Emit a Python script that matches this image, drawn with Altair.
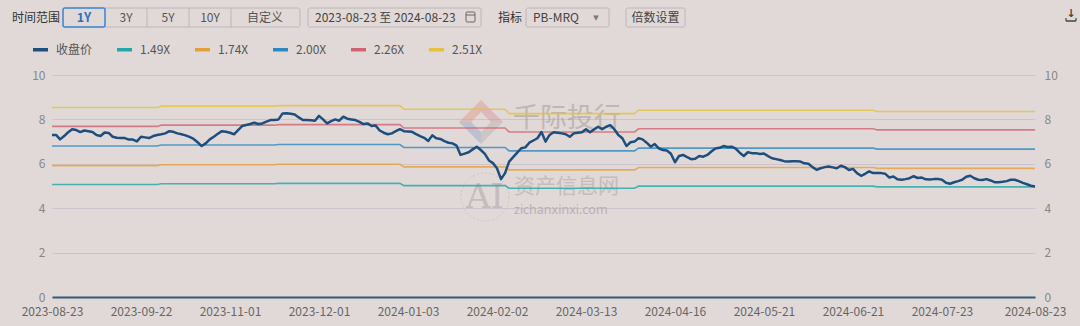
import altair as alt
import pandas as pd

# ---------------- data ----------------
tick_labels = ["2023-08-23", "2023-09-22", "2023-11-01", "2023-12-01", "2024-01-03",
               "2024-02-02", "2024-03-13", "2024-04-16", "2024-05-21", "2024-06-21",
               "2024-07-23", "2024-08-23"]
tick_days = [0, 22, 44, 66, 88, 110, 132, 154, 176, 198, 220, 243]

# closing price, one value per trading day (day 0 .. 243)
close = [
    7.30, 7.30, 7.10, 7.25, 7.42, 7.56, 7.52, 7.43, 7.50, 7.47,
    7.43, 7.30, 7.25, 7.41, 7.39, 7.22, 7.17, 7.16, 7.16, 7.09,
    7.09, 7.01, 7.22, 7.19, 7.16, 7.25, 7.30, 7.33, 7.37, 7.47,
    7.44, 7.37, 7.33, 7.28, 7.21, 7.12, 6.97, 6.80, 6.92, 7.10,
    7.22, 7.35, 7.47, 7.44, 7.40, 7.33, 7.52, 7.70, 7.75, 7.79,
    7.85, 7.79, 7.82, 7.90, 7.97, 7.97, 8.00, 8.27, 8.28, 8.25,
    8.22, 8.09, 7.97, 7.97, 7.96, 7.94, 8.16, 8.00, 7.82, 7.92,
    8.00, 7.94, 8.12, 8.03, 8.00, 7.97, 7.89, 7.79, 7.82, 7.70,
    7.72, 7.50, 7.40, 7.33, 7.37, 7.47, 7.56, 7.47, 7.46, 7.44,
    7.34, 7.25, 7.17, 7.03, 7.28, 7.15, 7.12, 7.02, 6.95, 6.92,
    6.82, 6.40, 6.46, 6.52, 6.65, 6.77, 6.62, 6.45, 6.15, 6.03,
    5.80, 5.31, 5.58, 6.10, 6.30, 6.50, 6.70, 6.74, 6.95, 7.05,
    7.15, 7.43, 7.00, 7.30, 7.42, 7.40, 7.37, 7.33, 7.22, 7.37,
    7.40, 7.42, 7.56, 7.42, 7.55, 7.67, 7.56, 7.67, 7.74, 7.56,
    7.30, 7.15, 6.80, 6.97, 7.00, 7.15, 7.10, 6.95, 6.77, 6.89,
    6.70, 6.62, 6.60, 6.45, 6.07, 6.35, 6.40, 6.30, 6.21, 6.23,
    6.35, 6.32, 6.40, 6.55, 6.69, 6.72, 6.80, 6.76, 6.77, 6.68,
    6.50, 6.35, 6.52, 6.48, 6.48, 6.44, 6.46, 6.35, 6.25, 6.21,
    6.17, 6.12, 6.10, 6.12, 6.12, 6.10, 6.02, 6.00, 5.85, 5.73,
    5.80, 5.85, 5.88, 5.84, 5.80, 5.91, 5.85, 5.72, 5.77, 5.58,
    5.46, 5.55, 5.66, 5.58, 5.58, 5.58, 5.55, 5.38, 5.43, 5.30,
    5.28, 5.31, 5.35, 5.44, 5.36, 5.38, 5.30, 5.29, 5.31, 5.32,
    5.28, 5.15, 5.10, 5.17, 5.22, 5.28, 5.42, 5.46, 5.35, 5.28,
    5.27, 5.31, 5.25, 5.17, 5.17, 5.19, 5.22, 5.28, 5.28, 5.22,
    5.14, 5.08, 5.01, 4.98,
]

band_names = ["1.49X", "1.74X", "2.00X", "2.26X", "2.51X"]
multiples = [1.49, 1.74, 2.00, 2.26, 2.51]
# book value per share (MRQ), stepwise: starts on these trading days
bvps_from_day = [0, 27, 56, 87, 113, 145, 204]
bvps_value = [3.40, 3.425, 3.435, 3.368, 3.29, 3.352, 3.33]

series_order = ["收盘价"] + band_names
series_colors = ["#1d4e7e", "#22a6a6", "#e3a03a", "#2b88c2", "#cf6470", "#e6c03e"]

# ---------------- tables ----------------
price_df = pd.DataFrame({"day": list(range(len(close))), "value": close, "series": "收盘价"})

rows = []
for d in range(len(close)):
    b = bvps_value[0]
    for start, v in zip(bvps_from_day, bvps_value):
        if d >= start:
            b = v
    for name, m in zip(band_names, multiples):
        rows.append({"day": d, "value": round(m * b, 3), "series": name})
band_df = pd.DataFrame(rows)

FONT = "Noto Sans CJK SC"
OX, OY = 52, 75
W, H = 983, 222

color_scale = alt.Scale(domain=series_order, range=series_colors)
legend = alt.Legend(title=None, orient="none", legendX=-21, legendY=-35,
                    direction="horizontal", symbolType="stroke", symbolSize=225,
                    symbolStrokeWidth=3.5, symbolOpacity=1, labelFontSize=12,
                    labelColor="#555555", labelFont=FONT, columnPadding=17,
                    labelOffset=6, padding=0)

label_expr = "[" + ",".join("'%s'" % s for s in tick_labels) + "][indexof([" + \
    ",".join(str(t) for t in tick_days) + "], datum.value)]"

x_enc = alt.X("day:Q", scale=alt.Scale(domain=[0, 243], nice=False, zero=False),
              axis=alt.Axis(values=tick_days, labelExpr=label_expr, grid=False, ticks=False,
                            domain=True, domainColor="#2f5b7c", domainWidth=2,
                            labelColor="#666666", labelFontSize=12, labelFont=FONT,
                            labelPadding=9, labelFlush=False, labelOverlap=False, title=None))
y_scale = alt.Scale(domain=[0, 10], nice=False, zero=True)

bands = alt.Chart(band_df).mark_line(strokeWidth=1.6, opacity=0.8).encode(
    x=x_enc,
    y=alt.Y("value:Q", scale=y_scale,
            axis=alt.Axis(values=[0, 2, 4, 6, 8, 10], orient="right", grid=False, domain=False,
                          ticks=False, labelColor="#888888", labelFontSize=12, labelFont=FONT,
                          labelPadding=9, title=None)),
    color=alt.Color("series:N", scale=color_scale, legend=legend),
)

price = alt.Chart(price_df).mark_line(strokeWidth=2.5, strokeJoin="round").encode(
    x=x_enc,
    y=alt.Y("value:Q", scale=y_scale,
            axis=alt.Axis(values=[0, 2, 4, 6, 8, 10], orient="left", grid=True,
                          gridColor="#cbc3cd", domain=False, ticks=False,
                          labelColor="#888888", labelFontSize=12, labelFont=FONT,
                          labelPadding=7, title=None)),
    color=alt.Color("series:N", scale=color_scale, legend=legend),
)

# ---------------- decorations (header UI, watermark) ----------------
dummy = pd.DataFrame({"k": [0]})


def txt(s, x, y, size=12, color="#444444", align="left", weight="normal", font=FONT, opacity=1.0):
    return alt.Chart(dummy).mark_text(text=s, align=align, baseline="middle", fontSize=size,
                                      color=color, fontWeight=weight, font=font,
                                      opacity=opacity).encode(
        x=alt.value(x - OX), y=alt.value(y - OY))


def box(x1, y1, x2, y2, stroke="#bdb5b8", sw=1.0, r=2):
    return alt.Chart(dummy).mark_rect(fillOpacity=0, stroke=stroke, strokeWidth=sw,
                                      cornerRadius=r).encode(
        x=alt.value(x1 - OX), x2=alt.value(x2 - OX), y=alt.value(y1 - OY), y2=alt.value(y2 - OY))


def rule(x1, y1, x2, y2, color="#555555", sw=1.0):
    return alt.Chart(dummy).mark_rule(color=color, strokeWidth=sw).encode(
        x=alt.value(x1 - OX), x2=alt.value(x2 - OX), y=alt.value(y1 - OY), y2=alt.value(y2 - OY))


def sym(path, x, y, size, fill, opacity):
    return alt.Chart(dummy).mark_point(shape=path, filled=True, fill=fill, size=size,
                                       opacity=opacity, strokeWidth=0).encode(
        x=alt.value(x - OX), y=alt.value(y - OY))


deco_back = [
    sym("M -1 0 L 0 -1 L 0 -0.45 L -0.45 0 Z", 481, 122, 1936, "#e09a7c", 0.45),
    sym("M 0 -1 L 1 0 L 0.45 0 L 0 -0.45 Z", 481, 122, 1936, "#d48d8d", 0.40),
    sym("M -1 0 L 0 1 L 0 0.45 L -0.45 0 Z", 481, 122, 1936, "#8fa3c6", 0.45),
    sym("M 1 0 L 0 1 L 0 0.45 L 0.45 0 Z", 481, 122, 1936, "#b9b0b0", 0.45),
    txt("千际投行", 513, 119, size=27, color="#aaa0a0", opacity=0.6),
    alt.Chart(dummy).mark_point(shape="circle", size=2300, filled=False, stroke="#c9c0c0",
                                strokeWidth=1, strokeDash=[2, 2]).encode(
        x=alt.value(485 - OX), y=alt.value(197 - OY)),
    txt("AI", 485, 198, size=34, color="#bfb5b5", align="center", font="DejaVu Serif", opacity=0.8),
    txt("资产信息网", 514, 187, size=21, color="#c3baba", opacity=0.9),
    txt("zichanxinxi.com", 514, 210, size=12.5, color="#b9afaf", font="Noto Sans"),
]

HY = 17.5
deco_front = [
    txt("时间范围", 12, HY, size=12, color="#333333"),
    box(63, 8, 300, 27),
    rule(105, 8, 105, 27, color="#bdb5b8"),
    rule(147, 8, 147, 27, color="#bdb5b8"),
    rule(189, 8, 189, 27, color="#bdb5b8"),
    rule(231, 8, 231, 27, color="#bdb5b8"),
    box(63, 8, 105, 27, stroke="#3d8ad6", sw=1.5),
    txt("1Y", 84, HY, size=12.5, color="#2a74c2", align="center", weight="bold"),
    txt("3Y", 126, HY, size=12, color="#555555", align="center"),
    txt("5Y", 168, HY, size=12, color="#555555", align="center"),
    txt("10Y", 210, HY, size=12, color="#555555", align="center"),
    txt("自定义", 265, HY, size=12, color="#555555", align="center"),
    box(308, 8, 481, 27),
    txt("2023-08-23  至  2024-08-23", 315, HY, size=12, color="#444444"),
    box(466, 12, 475, 22, stroke="#666666", sw=1, r=1),
    rule(466, 15, 475, 15, color="#666666"),
    txt("指标", 498, HY, size=12, color="#333333"),
    box(526, 8, 609, 27),
    txt("PB-MRQ", 533, HY, size=12, color="#444444"),
    txt("▼", 596, HY, size=7, color="#777777", align="center", font="DejaVu Sans"),
    box(626, 8, 685, 27),
    txt("倍数设置", 655.5, HY, size=12, color="#444444", align="center"),
    txt("↓", 1071, 14, size=11, color="#444444", align="center", weight="bold", font="DejaVu Sans"),
    rule(1066, 21, 1076, 21, color="#444444", sw=1.5),
    rule(1066, 18, 1066, 21, color="#444444", sw=1.2),
    rule(1076, 18, 1076, 21, color="#444444", sw=1.2),
]

chart = alt.layer(*deco_back, bands, price, *deco_front).resolve_axis(
    y="independent"
).properties(
    width=W, height=H,
    autosize=alt.AutoSizeParams(type="none"),
    padding={"left": OX, "top": OY, "right": 1080 - OX - W, "bottom": 326 - OY - H},
).configure(background="#e1d9d7").configure_view(stroke=None)

chart.save("out.html", embed_options={"renderer": "svg", "actions": False})
